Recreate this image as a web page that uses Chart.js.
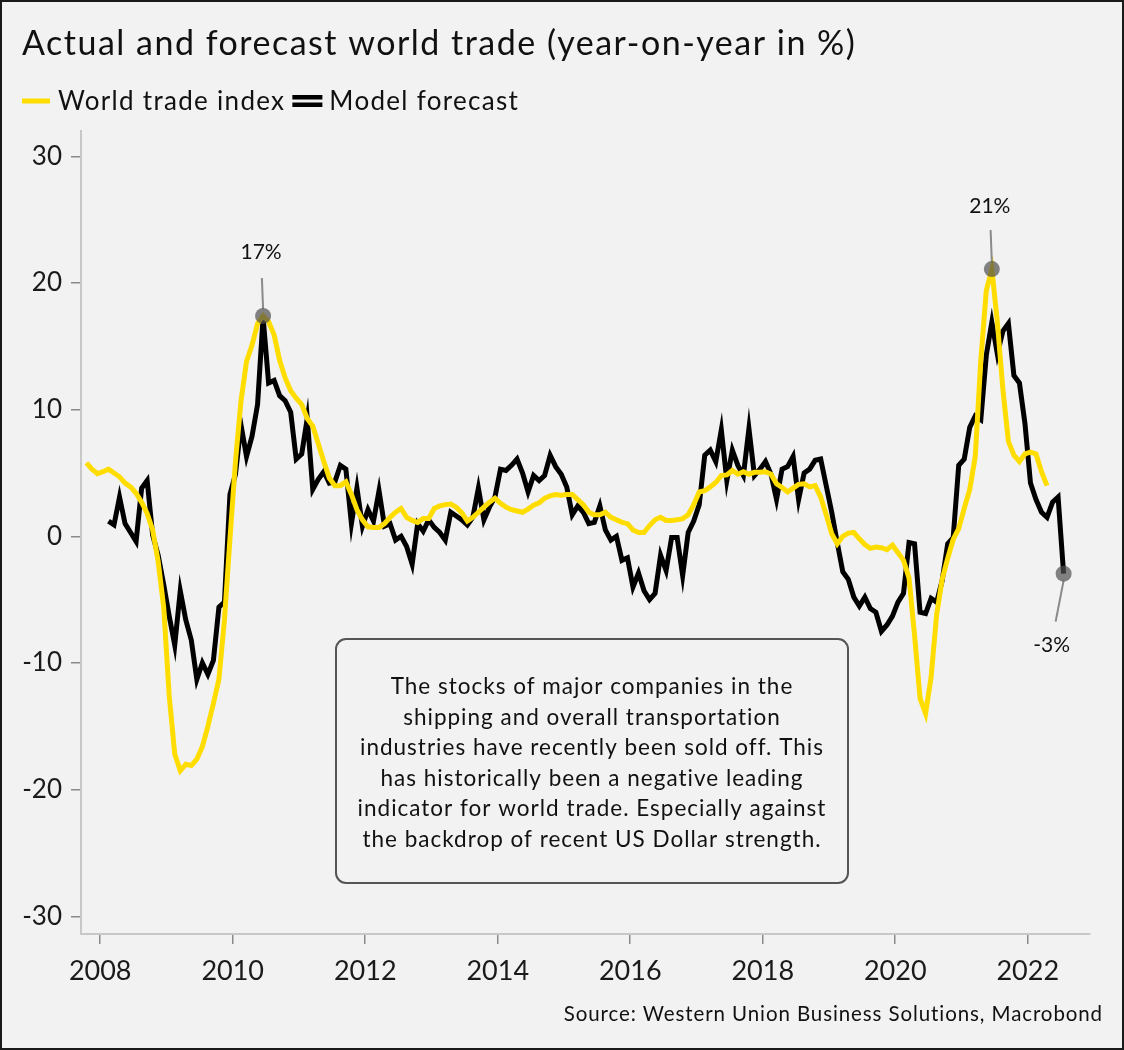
<!DOCTYPE html>
<html>
<head>
<meta charset="utf-8">
<title>Actual and forecast world trade</title>
<script src="https://cdn.jsdelivr.net/npm/chart.js@4.4.1/dist/chart.umd.min.js"></script>
<style>
  html, body { margin: 0; padding: 0; background: #f2f2f2; }
  canvas { display: block; }
</style>
</head>
<body>
<canvas id="trade-chart" width="1124" height="1050"></canvas>
<script>
// ---- data (monthly, year-on-year % change) ----
const tickYears = [2008, 2010, 2012, 2014, 2016, 2018, 2020, 2022];
const tickValues = [-30, -20, -10, 0, 10, 20, 30];

const tradeStart = [2007, 10];     // first month of the world trade index
const forecastStart = [2008, 2];   // first month of the model forecast

const tradeIndex = [
  5.8, 5.3, 4.95,
  5.1, 5.3, 5.0, 4.7, 4.2, 3.9, 3.4, 2.7, 1.8, 0.5, -2.0, -5.6,
  -12.6, -17.2, -18.5, -18.0, -18.1, -17.6, -16.6, -15.0, -13.2, -11.3, -6.6, -0.2,
  5.9, 10.7, 13.8, 15.1, 16.8, 17.4, 16.95, 15.9, 13.9, 12.5, 11.5, 10.9,
  10.4, 9.3, 8.7, 7.3, 5.9, 4.6, 4.0, 4.0, 4.3, 3.3, 2.1, 1.3,
  0.75, 0.7, 0.7, 1.0, 1.5, 1.9, 2.2, 1.5, 1.25, 1.1, 1.4, 1.4,
  2.2, 2.4, 2.5, 2.55, 2.3, 1.85, 1.2, 1.5, 1.9, 2.3, 2.7, 3.0,
  2.6, 2.3, 2.1, 2.0, 1.9, 2.15, 2.45, 2.65, 3.0, 3.2, 3.3, 3.25,
  3.3, 3.3, 2.9, 2.5, 1.9, 1.7, 1.7, 1.9, 1.5, 1.3, 1.1, 1.0,
  0.5, 0.3, 0.3, 0.85, 1.3, 1.5, 1.25, 1.25, 1.3, 1.4, 1.7, 2.5,
  3.5, 3.6, 3.9, 4.25, 4.8, 4.85, 5.2, 4.9, 5.1, 4.9, 5.05, 5.05,
  5.1, 4.9, 4.15, 3.85, 3.5, 3.8, 4.1, 4.15, 3.9, 4.0, 3.1, 1.7,
  0.2, -0.6, 0.0, 0.25, 0.3, -0.2, -0.65, -0.95, -0.85, -0.9, -1.05, -0.7,
  -1.3, -1.9, -3.3, -7.8, -12.8, -14.0, -11.1, -6.2, -3.4, -1.75, -0.25, 0.6,
  2.2, 3.7, 6.3, 13.9, 19.4, 21.1, 16.9, 11.6, 7.5, 6.4, 5.9, 6.5,
  6.65, 6.5, 5.1, 4.0
];

const modelForecast = [
  1.2, 0.9, 3.1, 1.0, 0.3, -0.4, 3.8, 4.4, 0.1, -1.5, -3.8,
  -6.3, -8.6, -4.3, -6.6, -8.2, -11.3, -10.0, -10.9, -9.8, -5.6, -5.2, 3.3,
  4.9, 8.8, 6.3, 7.9, 10.4, 17.3, 12.1, 12.3, 11.1, 10.7, 9.8, 6.1,
  6.5, 9.3, 3.7, 4.5, 5.1, 4.2, 4.3, 5.6, 5.3, 1.0, 3.8, 0.8,
  2.1, 1.2, 3.6, 0.8, 1.0, -0.3, 0.0, -0.8, -2.2, 1.0, 0.4, 1.3,
  0.7, 0.3, -0.3, 1.9, 1.6, 1.3, 0.9, 1.5, 3.8, 1.3, 2.3, 3.1,
  5.3, 5.2, 5.6, 6.1, 5.0, 3.5, 4.8, 4.4, 4.8, 6.4, 5.5, 4.9,
  3.9, 1.7, 2.4, 1.9, 1.0, 1.1, 2.4, 0.5, -0.3, 0.0, -1.9, -1.7,
  -4.0, -2.9, -4.3, -5.0, -4.5, -1.5, -2.7, -0.1, -0.1, -3.1, 0.3, 1.2,
  2.5, 6.4, 6.8, 5.9, 8.4, 4.4, 6.8, 5.6, 4.8, 8.5, 4.8, 5.3,
  5.9, 4.9, 2.9, 5.3, 5.5, 6.3, 2.9, 5.0, 5.3, 6.0, 6.1, 4.0,
  1.9, -0.5, -2.8, -3.4, -4.8, -5.5, -4.8, -5.7, -6.0, -7.5, -7.0, -6.3,
  -5.2, -4.5, -0.5, -0.6, -6.0, -6.1, -4.9, -5.2, -3.5, -0.6, -0.1, 5.6,
  6.1, 8.6, 9.5, 9.2, 14.3, 16.9, 14.4, 16.2, 16.8, 12.7, 12.1, 8.9,
  4.2, 2.9, 1.9, 1.5, 2.7, 3.1, -2.95
];

const noteLines = [
  'The stocks of major companies in the',
  'shipping and overall transportation',
  'industries have recently been sold off. This',
  'has historically been a negative leading',
  'indicator for world trade. Especially against',
  'the backdrop of recent US Dollar strength.'
];

const titleText = 'Actual and forecast world trade (year-on-year in %)';
const sourceText = 'Source: Western Union Business Solutions, Macrobond';

// ---- helpers ----
const FONT = 'Lato, "Noto Sans", sans-serif';
const YELLOW = '#ffdd00';

// monthly values plotted at mid-month on a decimal-year axis
const toPoints = (start, values) =>
  values.map((v, i) => ({ x: start[0] + (start[1] - 0.5 + i) / 12, y: v }));

const argMax = arr => arr.indexOf(Math.max(...arr));

// point callouts: which series/point, and where the label sits relative to it
const callouts = [
  { dataset: 0, index: argMax(tradeIndex.slice(0, 60)), dx: -2, dy: -64, lineFrom: -38 },
  { dataset: 0, index: argMax(tradeIndex), dx: -2, dy: -63, lineFrom: -39 },
  { dataset: 1, index: modelForecast.length - 1, dx: -12, dy: 72, lineFrom: 48 }
];

// text with a bit of tracking, the house font runs wider than Lato
const spacedText = (c, text, x, y, spacing) => {
  c.letterSpacing = spacing + 'px';
  c.fillText(text, x, y);
  c.letterSpacing = '0px';
};

// background and outer frame
const framePlugin = {
  id: 'frame',
  beforeDraw(chart) {
    const c = chart.ctx;
    c.save();
    c.fillStyle = '#f2f2f2';
    c.fillRect(0, 0, chart.width, chart.height);
    c.strokeStyle = '#1a1a1a';
    c.lineWidth = 2;
    c.strokeRect(1, 1, chart.width - 2, chart.height - 2);
    c.restore();
  }
};

// title, legend and source line
const headerPlugin = {
  id: 'header',
  afterDraw(chart) {
    const c = chart.ctx;
    c.save();
    c.fillStyle = '#111';
    c.textBaseline = 'alphabetic';
    c.font = '34px ' + FONT;
    spacedText(c, titleText, 22, 55, 1.5);

    // legend
    const sets = chart.data.datasets;
    c.font = '26px ' + FONT;
    c.textBaseline = 'middle';
    let x = 22;
    const y = 101;
    c.strokeStyle = YELLOW;
    c.lineWidth = 5;
    c.beginPath();
    c.moveTo(x, y);
    c.lineTo(x + 28, y);
    c.stroke();
    x += 36;
    c.letterSpacing = '1.3px';
    c.fillText(sets[0].label, x, y + 1);
    x += c.measureText(sets[0].label).width + 7;
    c.fillStyle = '#000';
    c.fillRect(x, y - 6, 30, 4.5);
    c.fillRect(x, y + 1.5, 30, 4.5);
    x += 37;
    c.fillStyle = '#111';
    c.fillText(sets[1].label, x, y + 1);
    c.letterSpacing = '0px';

    // source
    c.font = '20.5px ' + FONT;
    c.textAlign = 'right';
    c.textBaseline = 'alphabetic';
    spacedText(c, sourceText, 1103, 1021, 0.9);
    c.restore();
  }
};

// text box and value callouts
const notesPlugin = {
  id: 'notes',
  afterDatasetsDraw(chart) {
    const c = chart.ctx;
    const xs = chart.scales.x, ys = chart.scales.y;
    c.save();

    // commentary box
    c.fillStyle = '#f2f2f2';
    c.strokeStyle = '#555';
    c.lineWidth = 2;
    c.beginPath();
    c.roundRect(336, 639, 512, 244, 10);
    c.fill();
    c.stroke();
    c.fillStyle = '#111';
    c.font = '22.5px ' + FONT;
    c.textAlign = 'center';
    c.textBaseline = 'middle';
    noteLines.forEach((line, i) => spacedText(c, line, 592, 687 + i * 30.5, 1));

    // callouts
    callouts.forEach(co => {
      const p = chart.data.datasets[co.dataset].data[co.index];
      const px = xs.getPixelForValue(p.x);
      const py = ys.getPixelForValue(p.y);
      const dir = Math.sign(co.dy);
      c.strokeStyle = '#8a8a8a';
      c.lineWidth = 2;
      c.beginPath();
      c.moveTo(px + co.dx * (co.lineFrom / co.dy), py + co.lineFrom);
      c.lineTo(px, py + dir * 7);
      c.stroke();
      c.fillStyle = 'rgba(80,80,80,0.7)';
      c.beginPath();
      c.arc(px, py, 8, 0, Math.PI * 2);
      c.fill();
      c.fillStyle = '#111';
      c.font = '21px ' + FONT;
      c.fillText(Math.round(p.y) + '%', px + co.dx, py + co.dy);
    });
    c.restore();
  }
};

const canvas = document.querySelector('#trade-chart');

const chart = new Chart(canvas, {
  type: 'line',
  data: {
    datasets: [
      {
        label: 'World trade index',
        data: toPoints(tradeStart, tradeIndex),
        borderColor: YELLOW,
        borderWidth: 5,
        pointRadius: 0,
        tension: 0,
        borderJoinStyle: 'miter'
      },
      {
        label: 'Model forecast',
        data: toPoints(forecastStart, modelForecast),
        borderColor: '#000',
        borderWidth: 5,
        pointRadius: 0,
        tension: 0,
        borderJoinStyle: 'miter'
      }
    ]
  },
  options: {
    responsive: false,
    animation: false,
    devicePixelRatio: 1,
    layout: { padding: { top: 131, right: 34, bottom: 0, left: 0 } },
    plugins: {
      legend: { display: false },
      title: { display: false },
      tooltip: { enabled: false }
    },
    scales: {
      x: {
        type: 'linear',
        min: 2007.71,
        max: 2022.94,
        afterBuildTicks: s => { s.ticks = tickYears.map(v => ({ value: v })); },
        afterFit: s => { s.height = 116; },
        ticks: {
          callback: v => String(v),
          font: { family: FONT, size: 27 },
          color: '#1a1a1a',
          padding: 11,
          maxRotation: 0,
          autoSkip: false
        },
        grid: { drawOnChartArea: false, tickLength: 10, color: '#8a8a8a', lineWidth: 1.5 },
        border: { color: '#c8c8c8', width: 2 }
      },
      y: {
        min: -31.4,
        max: 32,
        afterBuildTicks: s => { s.ticks = tickValues.map(v => ({ value: v })); },
        afterFit: s => { s.width = 81; },
        ticks: {
          font: { family: FONT, size: 26 },
          color: '#1a1a1a',
          padding: 9
        },
        grid: { drawOnChartArea: false, tickLength: 10, color: '#8a8a8a', lineWidth: 1.5 },
        border: { color: '#c8c8c8', width: 2 }
      }
    }
  },
  plugins: [framePlugin, headerPlugin, notesPlugin]
});
</script>
</body>
</html>
